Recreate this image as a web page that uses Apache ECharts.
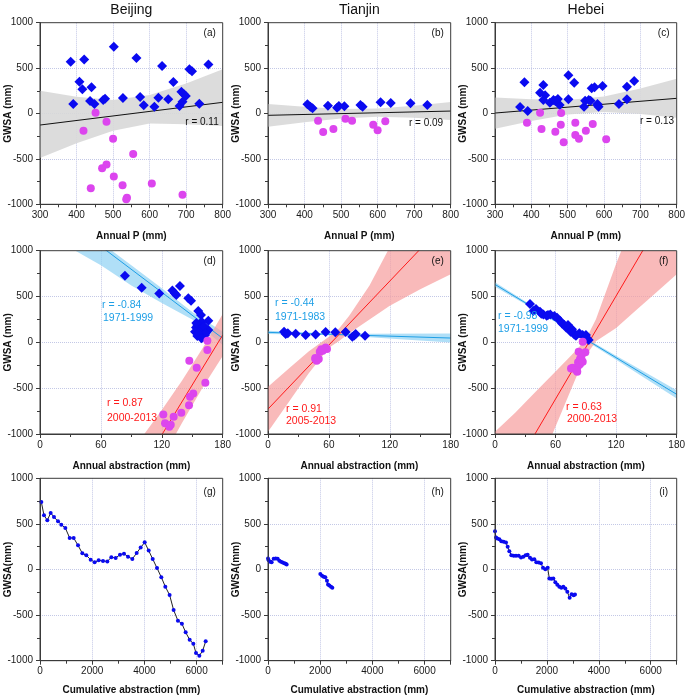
<!DOCTYPE html>
<html><head><meta charset="utf-8">
<script src="https://cdn.jsdelivr.net/npm/echarts@6/dist/echarts.min.js"></script>
<style>html,body{margin:0;padding:0;background:#fff}#c{width:685px;height:698px}</style>
</head><body><div id="c"></div>
<script>
// ---------------- DATA ----------------
const provinces = ['Beijing', 'Tianjin', 'Hebei'];
const panelTags = ['(a)','(b)','(c)','(d)','(e)','(f)','(g)','(h)','(i)'];
const xNames = ['Annual P (mm)', 'Annual abstraction (mm)', 'Cumulative abstraction (mm)'];
const yNames = ['GWSA (mm)', 'GWSA (mm)', 'GWSA(mm)'];
const yTicks = [-1000, 1000, 500];
const xTicksRow = [[300, 800, 100], [0, 180, 60], [0, 7000, 2000]];

// Row 1: GWSA vs annual precipitation
const bjP_pre = [[384,571],[421,596],[502,735],[564,611],[634,523],[761,541],[408,350],[416,266],[441,288],[391,105],[437,138],[449,105],[473,149],[478,163],[527,171],[574,182],[584,90],[624,174],[651,156],[665,347],[613,75],[687,240],[682,82],[694,211],[699,193],[709,486],[716,464],[736,108],[690,130]];
const bjP_post = [[452,9],[482,-90],[419,-189],[500,-278],[555,-446],[482,-563],[470,-604],[502,-695],[439,-824],[526,-791],[606,-772],[690,-894],[538,-927],[536,-945]];
const bjP_fitX = [300, 800], bjP_fitY = [-127, 123];
const bjP_bandX = [300, 400, 500, 600, 700, 800];
const bjP_bandLo = [-490, -328, -189, -110, -118, -138];
const bjP_bandHi = [251, 185, 150, 205, 330, 486];
const bjP_r = 'r = 0.11';

const tjP_pre = [[408,101],[416,75],[422,57],[464,86],[489,64],[494,83],[509,79],[553,94],[559,75],[608,123],[636,116],[690,112],[736,94]];
const tjP_post = [[437,-79],[451,-204],[479,-171],[512,-57],[530,-79],[588,-123],[600,-185],[621,-86]];
const tjP_fitX = [300, 800], tjP_fitY = [-20, 27];
const tjP_bandX = [300, 400, 500, 600, 700, 800];
const tjP_bandLo = [-145, -95, -55, -35, -48, -72];
const tjP_bandHi = [105, 75, 50, 55, 85, 127];
const tjP_r = 'r = 0.09';

const hbP_pre = [[369,72],[390,28],[381,343],[424,229],[433,314],[438,200],[433,149],[451,119],[461,149],[473,160],[478,94],[502,420],[502,156],[518,339],[545,75],[548,141],[558,149],[563,141],[566,277],[574,288],[596,303],[582,105],[585,75],[641,105],[663,156],[663,295],[683,358],[582,90],[466,138]];
const hbP_post = [[424,9],[388,-101],[428,-171],[466,-200],[481,-123],[482,5],[489,-317],[521,-101],[521,-237],[531,-277],[550,-189],[569,-116],[606,-284]];
const hbP_fitX = [300, 800], hbP_fitY = [5, 167];
const hbP_bandX = [300, 400, 500, 600, 700, 800];
const hbP_bandLo = [-167, -83, -10, 17, -5, -48];
const hbP_bandHi = [177, 157, 150, 187, 275, 382];
const hbP_r = 'r = 0.13';

// Row 2: GWSA vs annual abstraction
const bjA_pre = [[83.7,727],[100.2,596],[117.5,534],[130.4,567],[132.7,535],[134.3,516],[137.9,614],[146.1,480],[148.8,454],[155.9,341],[158.6,298],[165.8,236],[155,189],[159.3,225],[153.7,163],[157,134],[160.9,153],[152.7,116],[164.2,116],[157.6,80],[162.6,80],[155,69],[160.3,55],[165.8,134],[161.5,175],[163,98],[156,100],[159,45],[154,210]];
const bjA_post = [[164.9,17],[164.9,-84],[147.1,-200],[154.4,-277],[162.9,-440],[151,-557],[147.8,-593],[146.8,-687],[139.2,-768],[121.5,-786],[131.7,-811],[123.2,-884],[127.4,-920],[128.8,-899]];
const bjA_preFitX = [0, 180], bjA_preFitY = [1549, 44];
const bjA_preBandX = [30, 60, 90, 120, 150, 180];
const bjA_preBandLo = [1030, 840, 620, 430, 250, -29];
const bjA_preBandHi = [1340, 1090, 840, 590, 330, 116];
const bjA_postFitX = [100, 180], bjA_postFitY = [-1372, 80];
const bjA_postBandX = [100, 120, 140, 160, 180];
const bjA_postBandLo = [-1702, -1279, -876, -498, -150];
const bjA_postBandHi = [-1042, -739, -416, -68, 310];
const bjA_text = ['r = -0.84', '1971-1999', 'r = 0.87', '2000-2013'];

const tjA_pre = [[15.8,116],[17.4,91],[27.3,94],[37.1,80],[46.9,87],[56.8,112],[66.3,109],[76.5,112],[83.1,61],[86.4,91],[95.6,72],[19.5,100],[85,75]];
const tjA_post = [[46.6,-182],[50,-182],[48,-200],[51,-102],[52.5,-76],[56.8,-55],[58.1,-73],[46.6,-170],[53.9,-92]];
const tjA_preFitX = [0, 180], tjA_preFitY = [109, 47];
const tjA_preBandX = [0, 50, 100, 180];
const tjA_preBandLo = [91, 82, 57, -3];
const tjA_preBandHi = [127, 102, 93, 97];
const tjA_postFitX = [0, 180], tjA_postFitY = [-728, 1367];
const tjA_postBandX = [0, 20, 40, 60, 70, 80, 100, 120, 150, 180];
const tjA_postBandLo = [-975, -660, -340, -60, 15, 100, 250, 400, 580, 742];
const tjA_postBandHi = [-484, -290, -100, 60, 150, 290, 620, 1040, 1560, 2100];
const tjA_text = ['r = -0.44', '1971-1983', 'r = 0.91', '2005-2013'];

const hbA_pre = [[34.7,418],[38,341],[40.6,363],[44.6,334],[47.9,305],[52.5,298],[54.8,305],[58.8,287],[61.5,269],[64.4,236],[66.4,207],[68.7,189],[70.4,163],[72.3,189],[73.7,152],[76.3,142],[74.9,116],[77.6,109],[78.6,87],[80.2,73],[86.8,80],[88.5,62],[90.1,80],[91.1,44],[92.8,25],[88.8,25],[83.5,98],[45.9,312],[51.2,291]];
const hbA_post = [[86.9,7],[82.9,-102],[89.5,-109],[85.6,-145],[84.2,-182],[86.2,-204],[82.3,-218],[84.2,-240],[81.9,-265],[76.9,-276],[75.3,-284],[80.2,-302],[81.5,-320],[86.9,-211]];
const hbA_preFitX = [0, 180], hbA_preFitY = [632, -567];
const hbA_preBandX = [0, 40, 80, 120, 180];
const hbA_preBandLo = [607, 354, 87, -189, -612];
const hbA_preBandHi = [657, 378, 111, -145, -522];
const hbA_postFitX = [0, 180], hbA_postFitY = [-1742, 1631];
const hbA_postBandX = [0, 20, 40, 60, 80, 90, 100, 120, 140, 160, 180];
const hbA_postBandLo = [-2509, -1967, -1443, -918, -393, -146, 12, 157, 353, 548, 743];
const hbA_postBandHi = [-975, -767, -543, -318, -93, 34, 252, 857, 1413, 1968, 2523];
const hbA_text = ['r = -0.98', '1971-1999', 'r = 0.63', '2000-2013'];

// Row 3: GWSA vs cumulative abstraction
const bjCum = [[51,740],[153,594],[280,540],[409,620],[536,576],[690,528],[817,492],[971,455],[1137,346],[1290,346],[1456,265],[1622,178],[1775,155],[1941,108],[2094,79],[2248,101],[2414,93],[2580,89],[2733,134],[2899,126],[3065,163],[3218,174],[3372,141],[3538,115],[3704,181],[3857,240],[4011,298],[4164,207],[4318,115],[4483,16],[4648,-85],[4801,-188],[4966,-280],[5119,-444],[5284,-561],[5437,-594],[5581,-689],[5734,-770],[5875,-814],[5977,-916],[6105,-945],[6233,-890],[6348,-788]];
const tjCum1 = [[0,121],[26,102],[77,84],[140,80],[217,117],[294,121],[370,117],[434,95],[498,84],[562,77],[626,69],[677,62],[715,55]];
const tjCum2 = [[2005,-48],[2069,-69],[2133,-80],[2196,-84],[2260,-124],[2299,-165],[2350,-175],[2414,-190],[2465,-201]];
const hbCum = [[0,420],[39,351],[90,340],[167,333],[244,311],[334,303],[424,296],[488,249],[552,201],[629,157],[719,150],[809,150],[912,150],[1002,132],[1091,139],[1181,157],[1258,161],[1348,128],[1425,110],[1515,113],[1592,80],[1682,77],[1772,69],[1849,18],[1939,4],[2029,18],[2093,-99],[2170,-102],[2247,-99],[2324,-139],[2401,-168],[2478,-190],[2555,-201],[2632,-190],[2709,-208],[2786,-245],[2876,-311],[2953,-271],[3030,-282],[3082,-274]];

// ---------------- STYLE / LAYOUT ----------------
const FONT = '"Liberation Sans", Arial, sans-serif';
const C_BLUE = '#0a0af0', C_MAG = '#dc45ee', C_RED = '#ff1a1a', C_LBLUE = '#1e9fe6';
const colLeft = [40, 268, 495], colWidth = [182.7, 182.7, 181.7];
const rowTop = [22.7, 250.7, 478.3], rowHeight = [181.6, 183.3, 182.4];
const plain = v => String(v);

const grid = [], xAxis = [], yAxis = [], series = [], graphic = [];
for (let r = 0; r < 3; r++) {
  for (let c = 0; c < 3; c++) {
    grid.push({left: colLeft[c], top: rowTop[r], width: colWidth[c], height: rowHeight[r],
      containLabel: false, outerBoundsMode: 'none',
      show: true, borderColor: '#3a3a3a', borderWidth: 1, backgroundColor: 'transparent', z: 5});
    const xt = xTicksRow[r];
    xAxis.push({type: 'value', gridIndex: r*3+c, min: xt[0], max: xt[1], interval: xt[2],
      name: xNames[r], nameLocation: 'middle', nameGap: r === 2 ? 25 : 27, nameMoveOverlap: false,
      nameTextStyle: {fontFamily: FONT, fontWeight: 'bold', fontSize: 10, color: '#111'},
      axisLine: {show: true, onZero: false, lineStyle: {color: '#3a3a3a'}},
      axisTick: {show: true, inside: false, length: 4, lineStyle: {color: '#3a3a3a'}},
      minorTick: {show: true, splitNumber: 2, length: 3, lineStyle: {color: '#3a3a3a'}},
      splitLine: {show: true, showMinLine: false, showMaxLine: false, lineStyle: {type: 'dotted', color: '#c3c8e6', width: 1}},
      axisLabel: {fontFamily: FONT, fontSize: 10, color: '#1a1a1a', margin: 6, showMaxLabel: r !== 2, formatter: plain}});
    yAxis.push({type: 'value', gridIndex: r*3+c, min: yTicks[0], max: yTicks[1], interval: yTicks[2],
      name: yNames[r], nameLocation: 'middle', nameGap: 27, nameMoveOverlap: false,
      nameTextStyle: {fontFamily: FONT, fontWeight: 'bold', fontSize: 10, color: '#111'},
      axisLine: {show: true, onZero: false, lineStyle: {color: '#3a3a3a'}},
      axisTick: {show: true, inside: false, length: 4, lineStyle: {color: '#3a3a3a'}},
      minorTick: {show: true, splitNumber: 2, length: 3, lineStyle: {color: '#3a3a3a'}},
      splitLine: {show: true, showMinLine: false, showMaxLine: false, lineStyle: {type: 'dotted', color: '#c3c8e6', width: 1}},
      axisLabel: {fontFamily: FONT, fontSize: 10, color: '#1a1a1a', margin: 7, formatter: plain}});
    // panel tag
    graphic.push({type: 'text', z: 20, x: colLeft[c] + colWidth[c] - 13, y: rowTop[r] + (r === 2 ? 14 : 11),
      style: {text: panelTags[r*3+c], font: '10px ' + FONT, fill: '#111', textAlign: 'center', align: 'center', textVerticalAlign: 'middle', verticalAlign: 'middle'}});
  }
}
provinces.forEach((p, c) => graphic.push({type: 'text', x: colLeft[c] + colWidth[c] / 2, y: 10,
  style: {text: p, font: '14px ' + FONT, fill: '#111', textAlign: 'center', align: 'center', textVerticalAlign: 'middle', verticalAlign: 'middle'}}));

function zip(xs, ys) { return xs.map((x, i) => [x, ys[i]]); }
function band(gi, xs, lo, hi, color, op) {
  series.push({type: 'custom', xAxisIndex: gi, yAxisIndex: gi, clip: true, silent: true, z: 1,
    data: [[xs[0], lo[0]]],
    renderItem: function (params, api) {
      const pts = [];
      for (let k = 0; k < xs.length; k++) pts.push(api.coord([xs[k], hi[k]]));
      for (let k = xs.length - 1; k >= 0; k--) pts.push(api.coord([xs[k], lo[k]]));
      const cs = params.coordSys;
      return {type: 'group', clipPath: {type: 'rect', shape: {x: cs.x, y: cs.y, width: cs.width, height: cs.height}},
        children: [{type: 'polygon', shape: {points: pts}, style: {fill: color, opacity: op}}]};
    }});
}
function fit(gi, xs, ys, color) {
  series.push({type: 'line', xAxisIndex: gi, yAxisIndex: gi, data: zip(xs, ys), symbol: 'none', clip: true,
    lineStyle: {color: color, width: 1}, z: 3, silent: true});
}
function scat(gi, data, kind) {
  series.push({type: 'scatter', xAxisIndex: gi, yAxisIndex: gi, data: data, z: 4, silent: true,
    symbol: kind === 'pre' ? 'diamond' : 'circle', symbolSize: kind === 'pre' ? 10 : 8,
    itemStyle: {color: kind === 'pre' ? C_BLUE : C_MAG, opacity: 1}});
}
function txt(x, y, s, color, align, size) {
  graphic.push({type: 'text', x: x, y: y, z: 10,
    style: {text: s, font: (size || 10) + 'px ' + FONT, fill: color, textAlign: align, align: align, textVerticalAlign: 'middle', verticalAlign: 'middle'}});
}

// Row 1
band(0, bjP_bandX, bjP_bandLo, bjP_bandHi, '#d8d8d8', 0.9); fit(0, bjP_fitX, bjP_fitY, '#111');
scat(0, bjP_pre, 'pre'); scat(0, bjP_post, 'post');
band(1, tjP_bandX, tjP_bandLo, tjP_bandHi, '#d8d8d8', 0.9); fit(1, tjP_fitX, tjP_fitY, '#111');
scat(1, tjP_pre, 'pre'); scat(1, tjP_post, 'post');
band(2, hbP_bandX, hbP_bandLo, hbP_bandHi, '#d8d8d8', 0.9); fit(2, hbP_fitX, hbP_fitY, '#111');
scat(2, hbP_pre, 'pre'); scat(2, hbP_post, 'post');
txt(202, 122, bjP_r, '#111', 'center'); txt(426, 123, tjP_r, '#111', 'center'); txt(657, 121, hbP_r, '#111', 'center');

// Row 2
band(3, bjA_preBandX, bjA_preBandLo, bjA_preBandHi, '#8fd2f4', 0.7); fit(3, bjA_preFitX, bjA_preFitY, C_LBLUE);
band(3, bjA_postBandX, bjA_postBandLo, bjA_postBandHi, '#f79c9c', 0.7); fit(3, bjA_postFitX, bjA_postFitY, C_RED);
scat(3, bjA_pre, 'pre'); scat(3, bjA_post, 'post');
band(4, tjA_preBandX, tjA_preBandLo, tjA_preBandHi, '#8fd2f4', 0.7); fit(4, tjA_preFitX, tjA_preFitY, C_LBLUE);
band(4, tjA_postBandX, tjA_postBandLo, tjA_postBandHi, '#f79c9c', 0.7); fit(4, tjA_postFitX, tjA_postFitY, C_RED);
scat(4, tjA_pre, 'pre'); scat(4, tjA_post, 'post');
band(5, hbA_preBandX, hbA_preBandLo, hbA_preBandHi, '#8fd2f4', 0.7); fit(5, hbA_preFitX, hbA_preFitY, C_LBLUE);
band(5, hbA_postBandX, hbA_postBandLo, hbA_postBandHi, '#f79c9c', 0.7); fit(5, hbA_postFitX, hbA_postFitY, C_RED);
scat(5, hbA_pre, 'pre'); scat(5, hbA_post, 'post');
txt(102, 305, bjA_text[0], C_LBLUE, 'left', 10.5); txt(103, 318, bjA_text[1], C_LBLUE, 'left', 10.5);
txt(107, 403, bjA_text[2], C_RED, 'left', 10.5); txt(107, 418, bjA_text[3], C_RED, 'left', 10.5);
txt(275, 303, tjA_text[0], C_LBLUE, 'left', 10.5); txt(275, 317, tjA_text[1], C_LBLUE, 'left', 10.5);
txt(286, 409, tjA_text[2], C_RED, 'left', 10.5); txt(286, 421, tjA_text[3], C_RED, 'left', 10.5);
txt(498, 316, hbA_text[0], C_LBLUE, 'left', 10.5); txt(498, 329, hbA_text[1], C_LBLUE, 'left', 10.5);
txt(566, 407, hbA_text[2], C_RED, 'left', 10.5); txt(567, 419, hbA_text[3], C_RED, 'left', 10.5);

// Row 3
function cum(gi, data) {
  series.push({type: 'line', xAxisIndex: gi, yAxisIndex: gi, data: data, symbol: 'circle', symbolSize: 4,
    showSymbol: true, itemStyle: {color: C_BLUE}, lineStyle: {color: '#222', width: 1}, z: 3, silent: true});
}
cum(6, bjCum); cum(7, tjCum1); cum(7, tjCum2); cum(8, hbCum);

const chart = echarts.init(document.getElementById('c'), null, {renderer: 'canvas'});
chart.setOption({animation: false, backgroundColor: '#fff', grid, xAxis, yAxis, series, graphic});
</script></body></html>
